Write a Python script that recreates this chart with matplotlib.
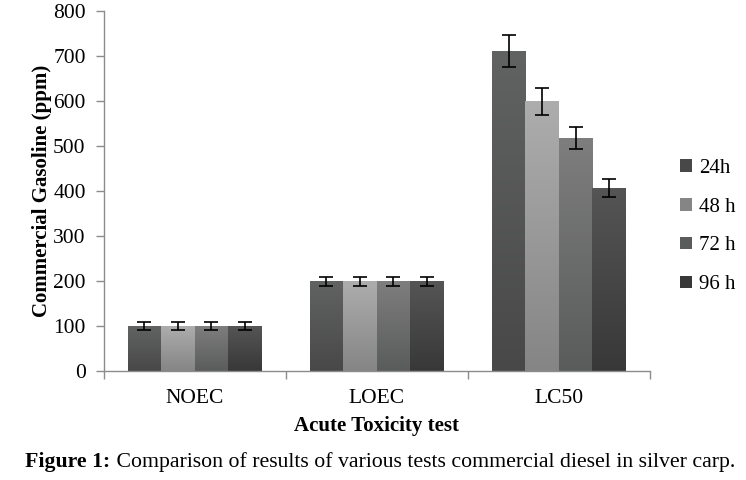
import numpy as np
import matplotlib.pyplot as plt
from matplotlib.colors import LinearSegmentedColormap

plt.rcParams["font.family"] = ["Liberation Serif", "DejaVu Serif"]

# DATA
categorias = ["NOEC", "LOEC", "LC50"]
series = ["24h", "48 h", "72 h", "96 h"]
valores = {
    "24h": [100, 200, 711],
    "48 h": [100, 200, 600],
    "72 h": [100, 200, 518],
    "96 h": [100, 200, 407],
}
errores = {
    "24h": [8, 10, 35],
    "48 h": [8, 10, 30],
    "72 h": [8, 10, 25],
    "96 h": [8, 10, 20],
}

# colores (abajo, arriba) del degradado
colores = {
    "24h": ("#484848", "#616362"),
    "48 h": ("#858585", "#adadad"),
    "72 h": ("#5a5b5b", "#7e7e7e"),
    "96 h": ("#383838", "#555555"),
}

fig = plt.figure(figsize=(7.46, 4.8), dpi=100)
ax = fig.add_axes([0.139, 0.227, 0.732, 0.750])

x = np.arange(len(categorias))
ancho = 0.184

for i, s in enumerate(series):
    pos = x + (i - 1.5) * ancho
    abajo, arriba = colores[s]
    barras = ax.bar(pos, valores[s], width=ancho, color=arriba, zorder=2)
    cmap = LinearSegmentedColormap.from_list(s, [abajo, arriba])
    grad = np.linspace(0, 1, 256).reshape(-1, 1)
    for b in barras:
        img = ax.imshow(grad, cmap=cmap, origin="lower", aspect="auto",
                        extent=[b.get_x(), b.get_x() + b.get_width(), 0, b.get_height()],
                        zorder=2.5)
        img.set_clip_path(b)
    ax.errorbar(pos, valores[s], yerr=errores[s], fmt="none", ecolor="black",
                elinewidth=1.2, capsize=5, capthick=1.2, zorder=4)
    ax.bar([0], [0], width=0, color=abajo, label=s)

ax.set_xlim(-0.5, 2.5)
ax.set_ylim(0, 800)
ax.set_yticks(range(0, 801, 100))
ax.set_xticks(x)
ax.set_xticklabels(categorias)
ax.set_xticks(np.arange(-0.5, 2.6, 1), minor=True)
ax.tick_params(axis="x", which="major", length=0, labelsize=15.5, pad=13)
ax.tick_params(axis="x", which="minor", length=6, color="#8c8c8c", width=1)
ax.tick_params(axis="y", length=6, color="#8c8c8c", width=1, labelsize=15.5, pad=7)

for lado in ["top", "right"]:
    ax.spines[lado].set_visible(False)
for lado in ["left", "bottom"]:
    ax.spines[lado].set_color("#8c8c8c")
    ax.spines[lado].set_linewidth(1)

ax.set_xlabel("Acute Toxicity test", fontsize=15, fontweight="bold", labelpad=6)
ax.set_ylabel("Commercial Gasoline (ppm)", fontsize=15, fontweight="bold", labelpad=1)

handles, labels = ax.get_legend_handles_labels()
fig.legend(handles, labels, loc="center left", bbox_to_anchor=(0.887, 0.528),
           frameon=False, fontsize=15, handlelength=0.55, handleheight=0.55,
           handletextpad=0.35, labelspacing=0.95)

t1 = fig.text(0.034, 0.027, "Figure 1:", fontsize=15.7, fontweight="bold")
ax.annotate(" Comparison of results of various tests commercial diesel in silver carp.",
            xy=(1, 0), xycoords=t1, fontsize=15.7, va="bottom", ha="left",
            annotation_clip=False)

plt.savefig("out.png", dpi=100)
